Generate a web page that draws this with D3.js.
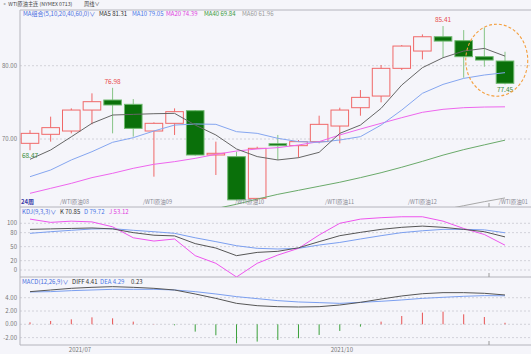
<!DOCTYPE html>
<html>
<head>
<meta charset="utf-8">
<script src="https://cdn.jsdelivr.net/npm/d3@7"></script>
<style>
  body { margin: 0; background: #f5f5fa; }
  svg { display: block; font-family: "Noto Sans CJK SC", "DejaVu Sans", sans-serif; }
</style>
</head>
<body>
<svg></svg>
<script>
// weekly candles, 24 weeks
const opens  = [69.41, 70.64, 71.09, 73.95, 75.32, 74.73, 71.09, 72.14, 73.86, 67.82, 67.59, 61.90, 69.36, 69.09, 69.64, 71.77, 74.27, 75.86, 79.64, 82.00, 83.95, 83.41, 81.23, 80.64];
const closes = [70.77, 71.55, 73.95, 75.09, 74.64, 71.45, 72.14, 73.73, 67.82, 68.05, 61.70, 68.73, 69.09, 69.64, 72.00, 73.95, 75.68, 79.64, 82.68, 83.95, 83.36, 81.23, 80.77, 77.60];
const highs  = [71.20, 73.05, 74.18, 76.23, 76.98, 75.45, 72.27, 74.18, 73.95, 69.64, 68.27, 68.95, 70.55, 69.86, 73.18, 74.27, 76.68, 80.09, 82.82, 84.27, 85.41, 84.86, 85.20, 81.90];
const lows   = [68.47, 69.64, 70.77, 72.00, 70.77, 70.32, 64.86, 70.55, 67.73, 65.09, 61.60, 61.50, 67.14, 67.45, 69.41, 69.41, 73.18, 75.00, 79.41, 80.86, 81.09, 78.36, 79.86, 77.45];

const ma5  = [67.23, 68.50, 70.30, 72.14, 73.27, 73.36, 73.45, 73.50, 71.90, 70.55, 68.64, 67.60, 67.14, 67.45, 68.18, 70.77, 71.90, 74.18, 77.36, 79.73, 81.09, 82.00, 82.36, 81.31];
const ma10 = [64.86, 65.77, 67.14, 68.27, 69.55, 70.18, 71.09, 71.90, 72.05, 72.00, 71.00, 70.77, 70.09, 69.64, 69.55, 69.86, 70.32, 71.90, 73.95, 76.23, 77.45, 78.27, 78.73, 79.05];
const ma20 = [62.59, 63.27, 63.95, 64.73, 65.32, 66.00, 66.55, 66.91, 67.36, 67.91, 68.36, 68.64, 68.82, 69.18, 69.64, 70.55, 71.36, 72.14, 72.91, 73.64, 74.05, 74.27, 74.36, 74.39];
const ma40 = [null, null, null, null, null, null, null, null, 59.90, 60.50, 61.10, 61.80, 62.45, 63.00, 63.55, 64.10, 64.73, 65.40, 66.15, 66.95, 67.80, 68.55, 69.20, 69.84];
const ma60 = [null, null, null, null, null, null, null, null, null, null, null, null, null, null, null, null, null, null, null, null, 60.35, 60.90, 61.45, 61.96];

const kLine = [87, 88, 89, 90, 88, 80, 74.5, 73, 56.5, 47, 30.7, 37.7, 40, 47.5, 60.7, 73.5, 80.6, 87, 91.4, 94, 91.4, 87, 82, 70.85];
const dLine = [78.5, 82, 85, 87.8, 88.5, 85, 82, 78.5, 69, 60.7, 52, 46.4, 45, 46.4, 53.5, 59, 66.4, 73.5, 80, 84, 87, 87, 86, 79.72];
const jLine = [109, 102, 104.6, 103, 92.5, 69, 62, 66.4, 30.7, 14.3, -15, 14.3, 32, 46.4, 75, 100, 109, 112, 114, 114, 104.6, 88.9, 76, 53.12];

const diff = [4.91, 5.16, 5.41, 5.56, 5.66, 5.56, 5.41, 5.16, 4.56, 3.90, 3.15, 2.80, 2.65, 2.60, 2.65, 2.90, 3.30, 3.80, 4.26, 4.60, 4.76, 4.76, 4.66, 4.41];
const dea  = [4.86, 4.91, 5.06, 5.16, 5.26, 5.26, 5.26, 5.16, 4.91, 4.56, 4.16, 3.86, 3.56, 3.36, 3.26, 3.15, 3.30, 3.46, 3.66, 3.90, 4.06, 4.21, 4.31, 4.29];
const macd = [0.30, 0.50, 0.75, 1.05, 0.90, 0.40, 0.05, -0.15, -1.10, -1.65, -2.85, -2.60, -2.35, -2.10, -1.60, -1.00, -0.35, 0.40, 1.25, 1.75, 1.90, 1.50, 1.10, 0.23];

const priceTicks = [70, 80];
const kdjTicks = [0, 20, 50, 80, 100];
const macdTicks = [-2, 0, 2, 4];

const contractLabels = ["/WTI原油08", "/WTI原油09", "/WTI原油10", "/WTI原油11", "/WTI原油12", "/WTI原油01"];
const contractPos = [1.45, 5.47, 9.93, 14.29, 18.3, 22.7];
const monthLabels = ["2021/07", "2021/10"];
const monthPos = [2.42, 15.1];

const W = 531, H = 354;
const svg = d3.select("svg").attr("width", W).attr("height", H);

const x = d3.scaleLinear().domain([0, 23]).range([30, 505]);
const bodyW = (x(1) - x(0)) * 0.9;
const yMain = d3.scaleLinear().domain([70, 80]).range([139, 65.7]);
const yKdj = d3.scaleLinear().domain([0, 100]).range([270, 223.3]);
const yMacd = d3.scaleLinear().domain([0, 4]).range([324.3, 297.7]);

const panels = [
  {id: "cMain", y0: 10, y1: 207},
  {id: "cKdj", y0: 207, y1: 277},
  {id: "cMacd", y0: 277, y1: 345}
];
const defs = svg.append("defs");
panels.forEach(p => {
  defs.append("clipPath").attr("id", p.id)
    .append("rect").attr("x", 20).attr("y", p.y0).attr("width", W - 20).attr("height", p.y1 - p.y0);
});

// grid lines + y labels
function grid(ticks, scale, fmt) {
  svg.append("g").selectAll("line").data(ticks).join("line")
    .attr("x1", 20).attr("x2", W)
    .attr("y1", d => scale(d)).attr("y2", d => scale(d))
    .attr("stroke", "#c9c9d2").attr("stroke-dasharray", "2,2").attr("stroke-width", 0.8);
  svg.append("g").selectAll("text").data(ticks).join("text")
    .attr("x", 17).attr("y", d => scale(d)).attr("dy", "0.35em")
    .attr("text-anchor", "end").attr("font-size", 6).attr("fill", "#777")
    .text(fmt);
}
grid(priceTicks, yMain, d => d.toFixed(2));
grid(kdjTicks, yKdj, d => d);
grid(macdTicks, yMacd, d => d.toFixed(2));

// frame
svg.append("g").selectAll("line").data([10, 207, 277, 345]).join("line")
  .attr("x1", 20).attr("x2", W).attr("y1", d => d).attr("y2", d => d)
  .attr("stroke", "#b4b4bc").attr("stroke-width", 1);
svg.append("line").attr("x1", 20).attr("x2", 20).attr("y1", 10).attr("y2", 345)
  .attr("stroke", "#b4b4bc");
svg.append("g").selectAll("line").data([207, 277, 345]).join("line")
  .attr("x1", 489).attr("x2", 489).attr("y1", d => d - 4).attr("y2", d => d)
  .attr("stroke", "#999");

// main panel
const gMain = svg.append("g").attr("clip-path", "url(#cMain)");
const idx = d3.range(opens.length);
const up = i => closes[i] >= opens[i];
const red = "#f06868", greenFill = "#0a700a", greenLine = "#6fb86f";

gMain.append("g").selectAll("line").data(idx).join("line")
  .attr("x1", i => x(i)).attr("x2", i => x(i))
  .attr("y1", i => yMain(highs[i])).attr("y2", i => yMain(lows[i]))
  .attr("stroke", i => up(i) ? red : "#86c486").attr("stroke-width", 1);

gMain.append("g").selectAll("rect").data(idx).join("rect")
  .attr("x", i => x(i) - bodyW / 2 + 0.5)
  .attr("width", bodyW - 1)
  .attr("y", i => yMain(Math.max(opens[i], closes[i])))
  .attr("height", i => Math.max(1, Math.abs(yMain(opens[i]) - yMain(closes[i]))))
  .attr("fill", i => up(i) ? "#f5f5fa" : greenFill)
  .attr("stroke", i => up(i) ? red : greenLine)
  .attr("stroke-width", 1);

const maSeries = [
  {v: ma60, c: "#a8a8a8"},
  {v: ma40, c: "#6aaa6a"},
  {v: ma20, c: "#ee66ee"},
  {v: ma10, c: "#85a6f0"},
  {v: ma5,  c: "#666"}
];
function drawLines(g, series, scale) {
  series.forEach(s => {
    g.append("path")
      .attr("d", d3.line().defined(i => s.v[i] != null).x(i => x(i)).y(i => scale(s.v[i]))(idx))
      .attr("fill", "none").attr("stroke", s.c).attr("stroke-width", 1);
  });
}
drawLines(gMain, maSeries, yMain);

// high / low marks
const iMax = d3.maxIndex(highs), iMin = d3.minIndex(lows.slice(0, 6));
const lastI = opens.length - 1;
const marks = [
  {i: 4, v: highs[4], dy: -4, c: "#e84a4a"},
  {i: iMax, v: highs[iMax], dy: -4, c: "#e84a4a"},
  {i: iMin, v: lows[iMin], dy: 8, c: "#3a8a3a"},
  {i: lastI, v: lows[lastI], dy: 8, c: "#3a8a3a"}
];
svg.append("g").selectAll("text").data(marks).join("text")
  .attr("x", d => x(d.i)).attr("y", d => yMain(d.v) + d.dy)
  .attr("text-anchor", "middle").attr("font-size", 6.5).attr("fill", d => d.c)
  .text(d => d.v.toFixed(2));

// highlight ellipse
svg.append("ellipse")
  .attr("cx", x(22.6)).attr("cy", yMain(80.75))
  .attr("rx", 31).attr("ry", 36)
  .attr("fill", "none").attr("stroke", "#f4a040").attr("stroke-width", 1.1)
  .attr("stroke-dasharray", "3,2");

// contract roll labels
svg.append("text").attr("x", 21).attr("y", 203.5).attr("font-size", 6)
  .attr("fill", "#3a3aa8").attr("font-weight", "bold").text("24周");
svg.append("g").selectAll("text").data(contractLabels).join("text")
  .attr("x", (d, k) => x(contractPos[k])).attr("y", 203.5)
  .attr("font-size", 5.5).attr("fill", "#8a8a95").text(d => d);

// KDJ
const gKdj = svg.append("g").attr("clip-path", "url(#cKdj)");
drawLines(gKdj, [
  {v: dLine, c: "#7b9ff0"},
  {v: jLine, c: "#ee55ee"},
  {v: kLine, c: "#555"}
], yKdj);

// MACD
const gMacd = svg.append("g").attr("clip-path", "url(#cMacd)");
gMacd.append("g").selectAll("line").data(idx).join("line")
  .attr("x1", i => x(i)).attr("x2", i => x(i))
  .attr("y1", yMacd(0)).attr("y2", i => yMacd(macd[i]))
  .attr("stroke", i => macd[i] >= 0 ? "#e85050" : "#3aa03a").attr("stroke-width", 1);
drawLines(gMacd, [
  {v: dea, c: "#7b9ff0"},
  {v: diff, c: "#555"}
], yMacd);

// month labels
svg.append("g").selectAll("text").data(monthLabels).join("text")
  .attr("x", (d, k) => x(monthPos[k])).attr("y", 352)
  .attr("text-anchor", "middle").attr("font-size", 6).attr("fill", "#777").text(d => d);

// legends
function legend(y, items, size) {
  const t = svg.append("text").attr("y", y).attr("font-size", size || 6);
  items.forEach(it => {
    t.append("tspan").attr("x", it[0]).attr("fill", it[2]).text(it[1]);
  });
}
legend(6, [[2, "◦ WTI原油主连 (NYMEX 0713)", "#444"], [84, "周线∨", "#444"]], 5.2);
legend(16, [
  [23, "MA组合(5,10,20,40,60,0)∨", "#4a6ee0"],
  [99, "MA5 " + ma5[lastI].toFixed(2), "#333"],
  [132, "MA10 " + ma10[lastI].toFixed(2), "#4a78e8"],
  [166, "MA20 " + ma20[lastI].toFixed(2), "#e040e0"],
  [204, "MA40 " + ma40[lastI].toFixed(2), "#3a9a3a"],
  [242, "MA60 " + ma60[lastI].toFixed(2), "#999"]
]);
legend(214, [
  [22, "KDJ(9,3,3)∨", "#4a6ee0"],
  [60, "K " + kLine[lastI].toFixed(2), "#333"],
  [84, "D " + dLine[lastI].toFixed(2), "#4a78e8"],
  [109, "J " + jLine[lastI].toFixed(2), "#e040e0"]
]);
legend(284, [
  [22, "MACD(12,26,9)∨", "#4a6ee0"],
  [72, "DIFF " + diff[lastI].toFixed(2), "#333"],
  [100, "DEA " + dea[lastI].toFixed(2), "#4a78e8"],
  [131, macd[lastI].toFixed(2), "#333"]
]);
</script>
</body>
</html>
